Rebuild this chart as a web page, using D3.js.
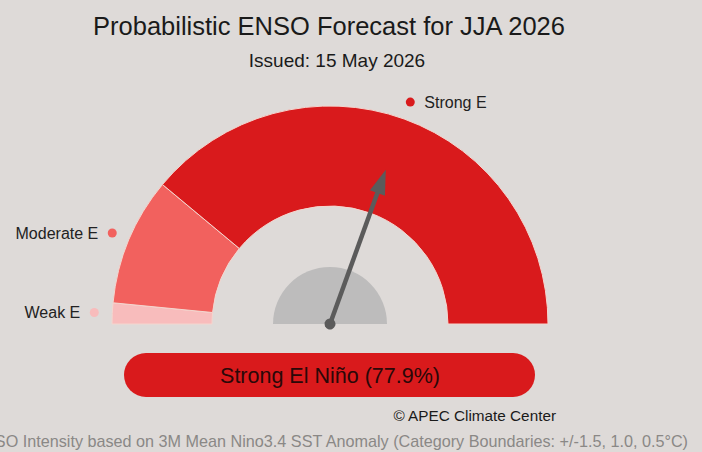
<!DOCTYPE html>
<html>
<head>
<meta charset="utf-8">
<script src="https://d3js.org/d3.v7.min.js"></script>
<style>
  body { margin: 0; background: #dedad8; }
  svg { display: block; font-family: "Liberation Sans", Arial, sans-serif; }
</style>
</head>
<body>
<div id="my_dataviz"></div>
<script>

// categories and probabilities (%), left to right along the gauge
var categories = ["Weak E", "Moderate E", "Strong E"];
var probs = [3.1, 19.0, 77.9];
var catColors = ["#f8bcbc", "#f2615e", "#d91a1c"];

var title = "Probabilistic ENSO Forecast for JJA 2026";
var issued = "Issued: 15 May 2026";
var verdict = "Strong El Niño (77.9%)";
var credit = "© APEC Climate Center";
var footnote = "ENSO Intensity based on 3M Mean Nino3.4 SST Anomaly (Category Boundaries: +/-1.5, 1.0, 0.5°C)";

var width = 702, height = 452;
var cx = 330, cy = 324;
var rInner = 118, rOuter = 218, rLabel = 236, rHub = 57;

var svg = d3.select("#my_dataviz")
  .append("svg")
    .attr("width", width)
    .attr("height", height);

svg.append("rect")
  .attr("width", width).attr("height", height)
  .attr("fill", "#dedad8");

// titles
svg.append("text")
  .attr("x", 329).attr("y", 35)
  .attr("text-anchor", "middle")
  .style("font-size", "25.5px")
  .style("fill", "#1a1a1a")
  .text(title);

svg.append("text")
  .attr("x", 337).attr("y", 67)
  .attr("text-anchor", "middle")
  .style("font-size", "19px")
  .style("fill", "#1a1a1a")
  .text(issued);

var g = svg.append("g")
  .attr("transform", "translate(" + cx + "," + cy + ")");

var data = categories.map(function(c, i) { return {name: c, value: probs[i], color: catColors[i]}; });

var pie = d3.pie()
  .sort(null)
  .value(function(d) { return d.value; })
  .startAngle(-Math.PI / 2)
  .endAngle(Math.PI / 2);

var arcs = pie(data);

var arc = d3.arc().innerRadius(rInner).outerRadius(rOuter);
var labelArc = d3.arc().innerRadius(rLabel).outerRadius(rLabel);

g.selectAll("path.seg")
  .data(arcs)
  .enter()
  .append("path")
    .attr("class", "seg")
    .attr("d", arc)
    .attr("fill", function(d) { return d.data.color; })
    .attr("stroke", "#f4d6cf")
    .attr("stroke-width", 1);

// category labels, dot at the middle of each segment
var lab = g.selectAll("g.lab")
  .data(arcs)
  .enter()
  .append("g")
    .attr("class", "lab")
    .attr("transform", function(d) { return "translate(" + labelArc.centroid(d) + ")"; });

lab.append("circle")
  .attr("r", 4.5)
  .attr("fill", function(d) { return d.data.color; });

lab.append("text")
  .attr("x", function(d) { return (d.startAngle + d.endAngle) / 2 > 0 ? 14 : -14; })
  .attr("dy", "0.35em")
  .attr("text-anchor", function(d) { return (d.startAngle + d.endAngle) / 2 > 0 ? "start" : "end"; })
  .style("font-size", "16px")
  .style("fill", "#222")
  .text(function(d) { return d.data.name; });

// hub
g.append("path")
  .attr("d", d3.arc().innerRadius(0).outerRadius(rHub).startAngle(-Math.PI / 2).endAngle(Math.PI / 2)())
  .attr("fill", "#bdbcbc");

// needle points to the middle of the most likely category
var best = arcs.reduce(function(a, b) { return b.value > a.value ? b : a; });
var needleAngle = (best.startAngle + best.endAngle) / 2 * 180 / Math.PI;
var needleLen = d3.scaleLinear().domain([0, 1]).range([0, 164]);

var needle = g.append("g")
  .attr("transform", "rotate(" + needleAngle + ")");

needle.append("line")
  .attr("x1", 0).attr("y1", 0)
  .attr("x2", 0).attr("y2", -needleLen(0.88))
  .attr("stroke", "#5b5b5b")
  .attr("stroke-width", 4.5);

needle.append("path")
  .attr("d", "M0," + (-needleLen(1)) + "L-8," + (-needleLen(0.85)) + "L8," + (-needleLen(0.85)) + "Z")
  .attr("fill", "#5b5b5b");

needle.append("circle")
  .attr("r", 5.5)
  .attr("fill", "#5b5b5b");

// result bar
svg.append("rect")
  .attr("x", 124).attr("y", 353)
  .attr("width", 411).attr("height", 44)
  .attr("rx", 22)
  .attr("fill", "#d91a1c");

svg.append("text")
  .attr("x", 330).attr("y", 383)
  .attr("text-anchor", "middle")
  .style("font-size", "21.5px")
  .style("fill", "#2a0808")
  .text(verdict);

svg.append("text")
  .attr("x", 556).attr("y", 421)
  .attr("text-anchor", "end")
  .style("font-size", "15.3px")
  .style("fill", "#1a1a1a")
  .text(credit);

// footnote runs off the left edge, as in the original
svg.append("text")
  .attr("x", 688).attr("y", 447)
  .attr("text-anchor", "end")
  .style("font-size", "16.2px")
  .style("fill", "#8a8886")
  .text(footnote);

</script>
</body>
</html>
